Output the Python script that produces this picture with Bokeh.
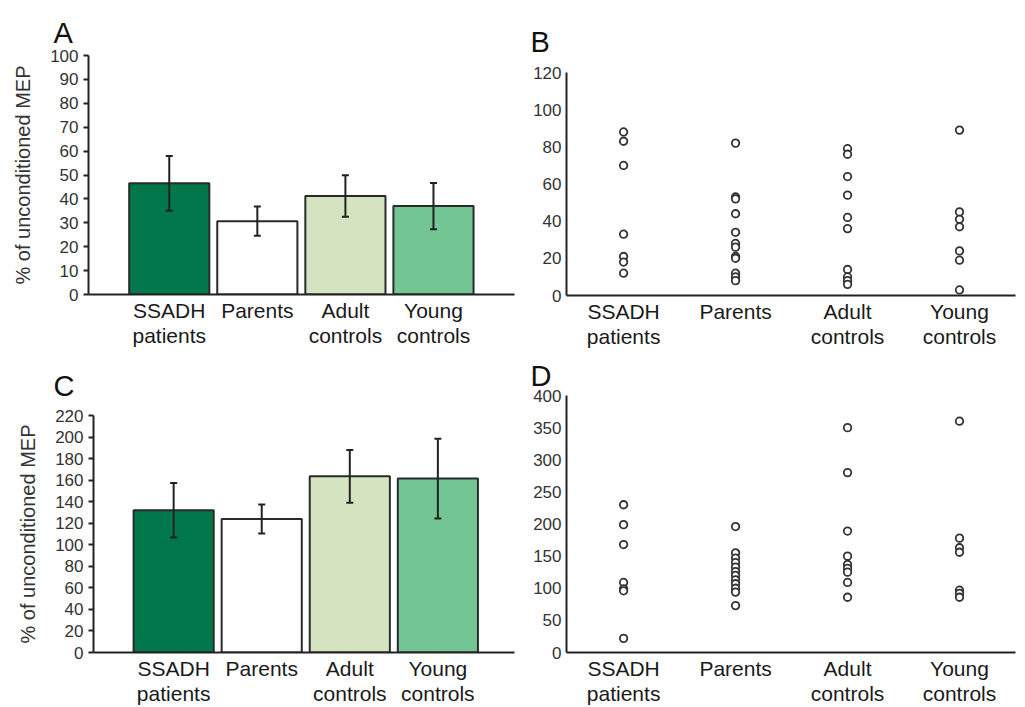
from bokeh.plotting import figure
from bokeh.models import ColumnDataSource, Whisker, TeeHead, FixedTicker, Range1d
from bokeh.layouts import row, column
from bokeh.embed import file_html
from bokeh.resources import INLINE

# ---------------- data ----------------
group_labels = ["SSADH\npatients", "Parents", "Adult\ncontrols", "Young\ncontrols"]
bar_colors = ["#00784B", "#FFFFFF", "#D4E4C0", "#74C594"]

a_mean = [46.5, 30.7, 41.2, 37.0]
a_err = [11.5, 6.1, 8.7, 9.7]
c_mean = [132.0, 124.0, 163.5, 161.5]
c_err = [25.3, 13.5, 24.5, 37.0]

b_ssadh = [88, 83, 70, 33, 21, 18, 12]
b_parents = [82, 53, 52, 44, 34, 28, 26, 21, 20, 12, 10, 8]
b_adult = [79, 76, 64, 54, 42, 36, 14, 10, 8, 6]
b_young = [89, 45, 41, 37, 24, 19, 3]

d_ssadh = [230, 199, 168, 109, 99, 96, 22]
d_parents = [196, 155, 147, 140, 133, 126, 120, 113, 107, 100, 94, 73]
d_adult = [350, 280, 189, 150, 137, 131, 125, 109, 86]
d_young = [360, 178, 163, 156, 97, 92, 86]

a_ticks = list(range(0, 101, 10))
b_ticks = list(range(0, 121, 20))
c_ticks = list(range(0, 221, 20))
d_ticks = list(range(0, 401, 50))

FONT = "Liberation Sans"
AXC = "#222222"
TXT = "#333333"
POS = [1, 2, 3, 4]


def style(p, letter, yticks, tick_out, t_off, t_stand):
    p.title.text = letter
    p.title.text_font = FONT
    p.title.text_font_size = "29px"
    p.title.text_font_style = "normal"
    p.title.text_color = "#111111"
    p.title.align = "left"
    p.title.offset = t_off
    p.title.standoff = t_stand
    p.outline_line_color = None
    p.xgrid.visible = False
    p.ygrid.visible = False
    p.background_fill_color = "white"
    p.border_fill_color = "white"
    for ax in (p.xaxis[0], p.yaxis[0]):
        ax.axis_line_color = AXC
        ax.axis_line_width = 2
        ax.minor_tick_line_color = None
        ax.major_label_text_font = FONT
    p.yaxis.ticker = FixedTicker(ticks=yticks)
    p.yaxis.major_tick_out = tick_out
    p.yaxis.major_tick_in = 0
    p.yaxis.major_tick_line_width = 2
    p.yaxis.major_tick_line_color = AXC
    p.yaxis.major_label_text_font_size = "17px"
    p.yaxis.major_label_text_color = TXT
    p.yaxis.major_label_standoff = 5
    p.xaxis.ticker = FixedTicker(ticks=POS)
    p.xaxis.major_label_overrides = {i: lab for i, lab in zip(POS, group_labels)}
    p.xaxis.major_tick_out = 0
    p.xaxis.major_tick_in = 0
    p.xaxis.major_label_text_font_size = "21px"
    p.xaxis.major_label_text_color = "#1a1a1a"
    p.xaxis.major_label_text_line_height = 1.1
    p.xaxis.major_label_standoff = 4


def make_fig(w, h, left, top, right, bottom, xr, yend):
    return figure(width=w, height=h, min_border_left=left, min_border_top=top,
                  min_border_right=right, min_border_bottom=bottom,
                  x_range=Range1d(*xr), y_range=Range1d(0, yend),
                  frame_align=False, output_backend="svg", toolbar_location=None)


def bar_panel(letter, means, errs, yend, yticks, xr, w, h, left, top, right, bottom,
              t_off, t_stand):
    p = make_fig(w, h, left, top, right, bottom, xr, yend)
    src = ColumnDataSource(dict(
        x=POS, top=means, color=bar_colors,
        upper=[m + e for m, e in zip(means, errs)],
        lower=[m - e for m, e in zip(means, errs)]))
    p.vbar(x="x", top="top", bottom=0, width=0.91, fill_color="color",
           line_color="#2a2a2a", line_width=2, source=src)
    w_ = Whisker(source=src, base="x", upper="upper", lower="lower",
                 line_color="#222222", line_width=2, level="annotation",
                 upper_head=TeeHead(size=7, line_width=2, line_color="#222222"),
                 lower_head=TeeHead(size=7, line_width=2, line_color="#222222"))
    p.add_layout(w_)
    style(p, letter, yticks, 5, t_off, t_stand)
    p.yaxis.axis_label = "% of unconditioned MEP"
    p.yaxis.axis_label_text_font = FONT
    p.yaxis.axis_label_text_font_size = "20px"
    p.yaxis.axis_label_text_font_style = "normal"
    p.yaxis.axis_label_text_color = TXT
    p.yaxis.axis_label_standoff = 13
    return p


def dot_panel(letter, groups, yend, yticks, w, h, left, top, right, bottom,
              t_off, t_stand):
    p = make_fig(w, h, left, top, right, bottom, (0.49, 4.5), yend)
    xs, ys = [], []
    for pos, vals in zip(POS, groups):
        xs += [pos] * len(vals)
        ys += list(vals)
    p.scatter(x=xs, y=ys, marker="circle", size=7.5, fill_color="white",
              line_color="#333333", line_width=1.8)
    style(p, letter, yticks, 0, t_off, t_stand)
    return p


pa = bar_panel("A", a_mean, a_err, 100, a_ticks, (0.083, 4.92),
               518, 351, 88, 55, 4, 57, -35, 14)
pb = dot_panel("B", [b_ssadh, b_parents, b_adult, b_young], 120, b_ticks,
               499, 351, 48, 72, 2, 56, -36, 30)
pc = bar_panel("C", c_mean, c_err, 220, c_ticks, (0.09, 4.87),
               518, 356, 93, 64, 4, 54, -40, 27)
pd = dot_panel("D", [d_ssadh, d_parents, d_adult, d_young], 400, d_ticks,
               499, 356, 48, 44, 2, 53, -36, 7)

layout = column(row(pa, pb), row(pc, pd))
open("out.html", "w").write(file_html(layout, INLINE))
